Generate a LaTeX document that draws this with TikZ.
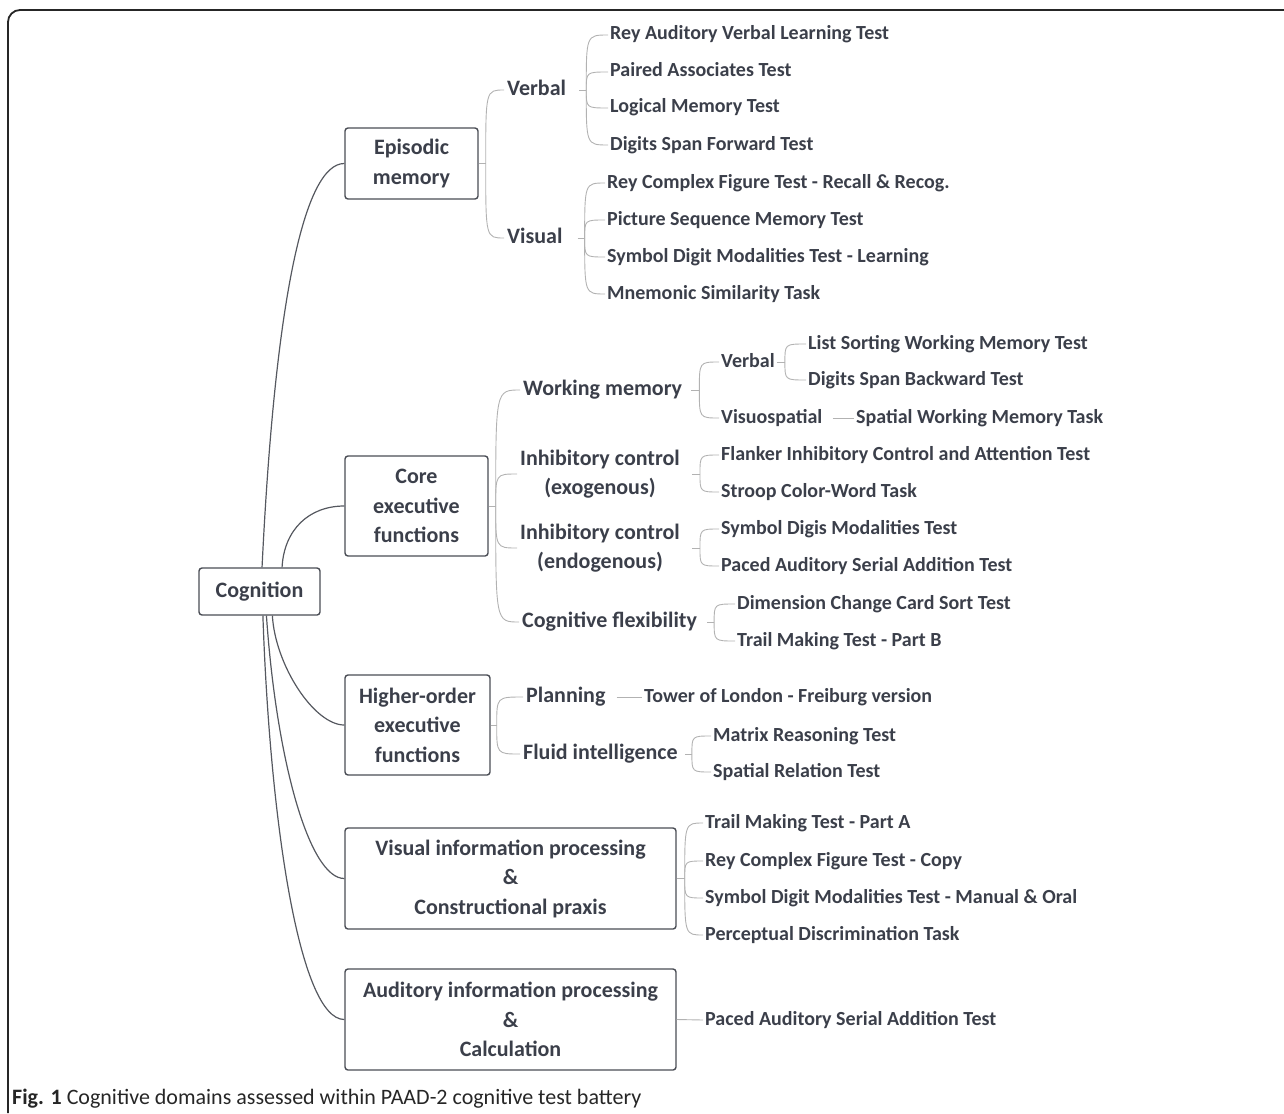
\documentclass[tikz,border=0pt]{standalone}
\usepackage{fontspec}
\setmainfont{Carlito}
\definecolor{ink}{HTML}{3B3F4A}
\definecolor{boxgray}{HTML}{4A4D55}
\definecolor{trunkgray}{HTML}{55585F}
\definecolor{branchgray}{HTML}{B2B2B2}

\tikzset{
  dombox/.style={draw=boxgray, line width=1.4pt, rounded corners=3pt, align=center,
    text=ink, font=\bfseries\fontsize{22}{29.5}\selectfont, inner sep=0pt},
  areanode/.style={anchor=west, align=center, text=ink,
    font=\bfseries\fontsize{22}{29}\selectfont, inner xsep=3pt, inner ysep=0pt},
  testnode/.style={anchor=west, text=ink, font=\bfseries\fontsize{20}{24}\selectfont,
    inner xsep=2pt, inner ysep=0pt, text height=14pt, text depth=4pt},
  oneline/.style={text height=15pt, text depth=4pt},
  trunkline/.style={draw=trunkgray, line width=1.2pt},
  branchline/.style={draw=branchgray, line width=0.9pt},
  fork/.style={to path={.. controls (\tikztostart |- \tikztotarget) .. (\tikztotarget) \tikztonodes}}
}

\begin{document}
\begin{tikzpicture}[x=1pt,y=-1pt]
\useasboundingbox (0,0) rectangle (1284,1113);
\draw[line width=1.8pt, rounded corners=12pt, color=black!85] (8,1113) -- (8,10) -- (1284,10);

% domains
\node[dombox, minimum width=121pt, minimum height=47pt] (cog) at (259.5,591.5) {Cognition};
\node[dombox, minimum width=133pt, minimum height=71pt] (epi) at (411.5,163.5) {Episodic\\memory};
\node[dombox, minimum width=143pt, minimum height=100pt] (core) at (416.5,506) {Core\\executive\\functions};
\node[dombox, minimum width=145pt, minimum height=100pt] (high) at (417.5,725) {Higher-order\\executive\\functions};
\node[dombox, minimum width=331pt, minimum height=101pt] (vis) at (510.5,878.5) {Visual information processing\\\&\\Constructional praxis};
\node[dombox, minimum width=331pt, minimum height=101pt] (aud) at (510.5,1019.5) {Auditory information processing\\\&\\Calculation};

% sub-domains
\node[areanode, oneline] (verbal) at (504,90) {Verbal};
\node[areanode, oneline] (visual) at (504,238) {Visual};
\node[areanode, oneline] (wm) at (520,390) {Working memory};
\node[areanode] (inhexo) at (517,474) {Inhibitory control\\(exogenous)};
\node[areanode] (inhendo) at (517,548) {Inhibitory control\\(endogenous)};
\node[areanode, oneline] (cogflex) at (519,622) {Cognitive flexibility};
\node[areanode, oneline] (plan) at (523,697) {Planning};
\node[areanode, oneline] (fluid) at (520,754) {Fluid intelligence};
\node[testnode] (wmverb) at (719,362) {Verbal};
\node[testnode] (visuo) at (719,418) {Visuospatial};

% tests
\node[testnode] (ravlt) at (608,35) {Rey Auditory Verbal Learning Test};
\node[testnode] (pat) at (608,72) {Paired Associates Test};
\node[testnode] (lmt) at (608,108) {Logical Memory Test};
\node[testnode] (dsft) at (608,145) {Digits Span Forward Test};
\node[testnode] (rcftr) at (605,183) {Rey Complex Figure Test - Recall \& Recog.};
\node[testnode] (psmt) at (605,220) {Picture Sequence Memory Test};
\node[testnode] (sdmtl) at (605,257) {Symbol Digit Modalities Test - Learning};
\node[testnode] (mst) at (605,294) {Mnemonic Similarity Task};
\node[testnode] (lswm) at (806,344) {List Sorting Working Memory Test};
\node[testnode] (dsbt) at (806,380) {Digits Span Backward Test};
\node[testnode] (swm) at (854,418) {Spatial Working Memory Task};
\node[testnode] (flanker) at (719,455) {Flanker Inhibitory Control and Attention Test};
\node[testnode] (stroop) at (719,492) {Stroop Color-Word Task};
\node[testnode] (sdmt) at (719,529) {Symbol Digis Modalities Test};
\node[testnode] (pasata) at (719,566) {Paced Auditory Serial Addition Test};
\node[testnode] (dccs) at (735,604) {Dimension Change Card Sort Test};
\node[testnode] (tmtb) at (735,641) {Trail Making Test - Part B};
\node[testnode] (tol) at (642,697) {Tower of London - Freiburg version};
\node[testnode] (mrt) at (711,736) {Matrix Reasoning Test};
\node[testnode] (srt) at (711,772) {Spatial Relation Test};
\node[testnode] (tmta) at (703,823) {Trail Making Test - Part A};
\node[testnode] (rcftc) at (703,861) {Rey Complex Figure Test - Copy};
\node[testnode] (sdmtmo) at (703,898) {Symbol Digit Modalities Test - Manual \& Oral};
\node[testnode] (pdt) at (703,935) {Perceptual Discrimination Task};
\node[testnode] (pasatb) at (703,1020) {Paced Auditory Serial Addition Test};

% caption
\node[anchor=base west, inner sep=0pt, text=black!85, font=\fontsize{22}{24}\selectfont] (caption) at (12,1104)
  {\textbf{Fig. 1} Cognitive domains assessed within PAAD-2 cognitive test battery};

% junctions
\coordinate (epiJ) at ([xshift=7pt]epi.east);
\coordinate (coreJ) at ([xshift=7pt]core.east);
\coordinate (highJ) at ([xshift=6pt]high.east);
\coordinate (visJ) at ([xshift=8pt]vis.east);
\coordinate (verbalJ) at ([xshift=17pt]verbal.east);
\coordinate (visualJ) at ([xshift=19pt]visual.east);
\coordinate (wmJ) at ([xshift=14pt]wm.east);
\coordinate (wmverbJ) at ([xshift=8pt]wmverb.east);
\coordinate (inhexoJ) at ([xshift=17pt]inhexo.east);
\coordinate (inhendoJ) at ([xshift=17pt]inhendo.east);
\coordinate (cogflexJ) at ([xshift=14pt]cogflex.east);
\coordinate (fluidJ) at ([xshift=11pt]fluid.east);

% cognition to domains
\draw[trunkline] (cog.84) .. controls +(13,-268) and +(-40,0) .. (epi.west);
\draw[trunkline] (cog.47) .. controls +(2,-38) and +(-35,0) .. (core.west);
\draw[trunkline] (cog.-62) .. controls +(3,50) and +(-30,0) .. (high.west);
\draw[trunkline] (cog.-74) .. controls +(10,145) and +(-35,0) .. (vis.west);
\draw[trunkline] (cog.-82) .. controls +(7,205) and +(-45,0) .. (aud.west);

% episodic memory
\draw[branchline] (epi.east) -- (epiJ);
\draw[branchline] (epiJ) to[fork] (verbal.west);
\draw[branchline] (epiJ) to[fork] (visual.west);
\draw[branchline] ([xshift=10pt]verbal.east) -- (verbalJ);
\draw[branchline] (verbalJ) to[fork] (ravlt.west);
\draw[branchline] (verbalJ) to[fork] (pat.west);
\draw[branchline] (verbalJ) to[fork] (lmt.west);
\draw[branchline] (verbalJ) to[fork] (dsft.west);
\draw[branchline] ([xshift=12pt]visual.east) -- (visualJ);
\draw[branchline] (visualJ) to[fork] (rcftr.west);
\draw[branchline] (visualJ) to[fork] (psmt.west);
\draw[branchline] (visualJ) to[fork] (sdmtl.west);
\draw[branchline] (visualJ) to[fork] (mst.west);

% core executive functions
\draw[branchline] (core.east) -- (coreJ);
\draw[branchline] (coreJ) to[fork] (wm.west);
\draw[branchline] (coreJ) to[fork] (inhexo.west);
\draw[branchline] (coreJ) to[fork] (inhendo.west);
\draw[branchline] (coreJ) to[fork] (cogflex.west);
\draw[branchline] ([xshift=6pt]wm.east) -- (wmJ);
\draw[branchline] (wmJ) to[fork] (wmverb.west);
\draw[branchline] (wmJ) to[fork] (visuo.west);
\draw[branchline] (wmverb.east) -- (wmverbJ);
\draw[branchline] (wmverbJ) to[fork] (lswm.west);
\draw[branchline] (wmverbJ) to[fork] (dsbt.west);
\draw[branchline] ([xshift=8pt]visuo.east) -- (swm.west);
\draw[branchline] ([xshift=9pt]inhexo.east) -- (inhexoJ);
\draw[branchline] (inhexoJ) to[fork] (flanker.west);
\draw[branchline] (inhexoJ) to[fork] (stroop.west);
\draw[branchline] ([xshift=9pt]inhendo.east) -- (inhendoJ);
\draw[branchline] (inhendoJ) to[fork] (sdmt.west);
\draw[branchline] (inhendoJ) to[fork] (pasata.west);
\draw[branchline] ([xshift=7pt]cogflex.east) -- (cogflexJ);
\draw[branchline] (cogflexJ) to[fork] (dccs.west);
\draw[branchline] (cogflexJ) to[fork] (tmtb.west);

% higher-order executive functions
\draw[branchline] (high.east) -- (highJ);
\draw[branchline] (highJ) to[fork] (plan.west);
\draw[branchline] (highJ) to[fork] (fluid.west);
\draw[branchline] ([xshift=8pt]plan.east) -- (tol.west);
\draw[branchline] ([xshift=4pt]fluid.east) -- (fluidJ);
\draw[branchline] (fluidJ) to[fork] (mrt.west);
\draw[branchline] (fluidJ) to[fork] (srt.west);

% visual and auditory processing
\draw[branchline] (vis.east) -- (visJ);
\draw[branchline] (visJ) to[fork] (tmta.west);
\draw[branchline] (visJ) to[fork] (rcftc.west);
\draw[branchline] (visJ) to[fork] (sdmtmo.west);
\draw[branchline] (visJ) to[fork] (pdt.west);
\draw[branchline] (aud.east) -- (pasatb.west);
\end{tikzpicture}
\end{document}
